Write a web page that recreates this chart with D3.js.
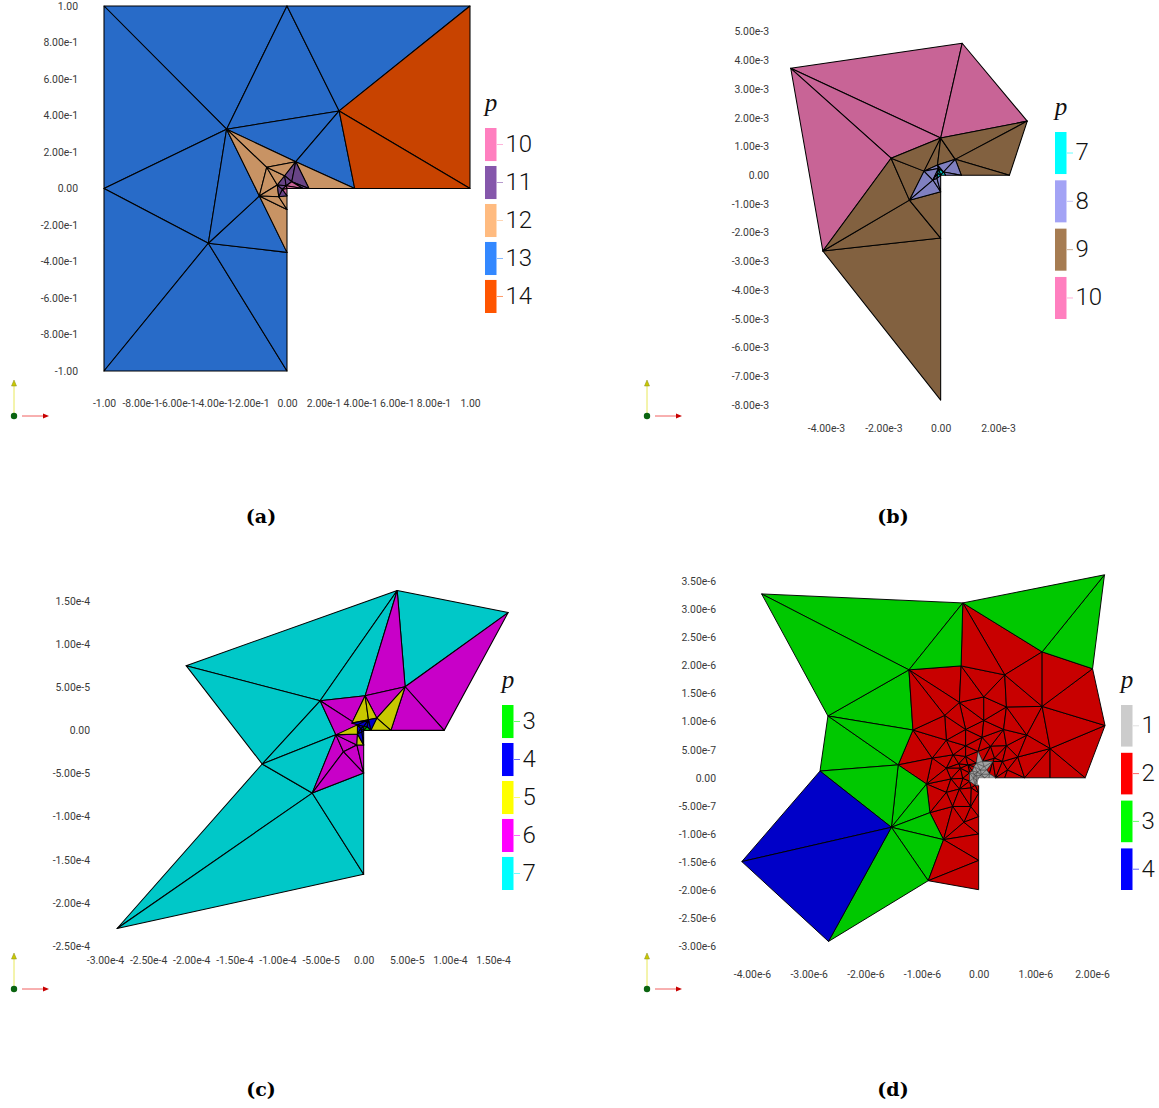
<!DOCTYPE html>
<html>
<head>
<meta charset="utf-8">
<script src="https://cdn.jsdelivr.net/npm/d3@7"></script>
<style>
    body { margin: 0; background: #fff; }
    svg { display: block; }
    .tick text { font-family: Roboto, sans-serif; font-size: 10.4px; fill: #3a3a3a; }
</style>
</head>
<body>
<div id="chart"></div>
<script>
const pValues = [1, 2, 3, 4, 5, 6, 7, 8, 9, 10, 11, 12, 13, 14];
const pColors = ["#cccccc", "#ff0000", "#00ff00", "#0000ff", "#ffff00", "#ff00ff", "#00ffff",
    "#a3a3f5", "#a67c52", "#ff7fbf", "#8557ab", "#ffbb80", "#3388ff", "#ff5500"];

// panel (a), unit 1
const xTicksA = [-1, -0.8, -0.6, -0.4, -0.2, 0, 0.2, 0.4, 0.6, 0.8, 1];
const xLabelsA = ["-1.00", "-8.00e-1", "-6.00e-1", "-4.00e-1", "-2.00e-1", "0.00", "2.00e-1", "4.00e-1", "6.00e-1", "8.00e-1", "1.00"];
const yTicksA = xTicksA;
const yLabelsA = xLabelsA;
const legendA = [10, 11, 12, 13, 14];
const nodesA = [[-1, 1], [0, 1], [1, 1], [1, 0], [0.37, 0], [-1, 0], [-1, -1], [0, -1], [0, -0.35],
    [-0.33, 0.325], [0.285, 0.425], [-0.43, -0.30], [0.048, 0.147], [-0.111, 0.116], [-0.151, -0.041],
    [-0.053, 0.019], [0, -0.115], [-0.045, -0.045], [0.12, 0], [-0.0126, 0.07], [0.026, 0.037],
    [-0.005, 0.015], [0.087, 0], [-0.025, -0.005], [0, -0.04], [0, 0]];
const trisA = [[0, 1, 9, 13], [1, 9, 10, 13], [1, 2, 10, 13], [0, 5, 9, 13], [5, 9, 11, 13], [5, 6, 11, 13],
    [6, 7, 11, 13], [7, 8, 11, 13], [8, 11, 14, 13], [9, 11, 14, 13], [9, 10, 12, 13], [10, 12, 4, 13],
    [2, 3, 10, 14], [3, 4, 10, 14],
    [9, 12, 13, 12], [9, 13, 14, 12], [12, 18, 4, 12], [14, 16, 8, 12], [14, 13, 15, 12], [14, 15, 17, 12],
    [14, 17, 16, 12], [13, 15, 19, 12], [13, 19, 12, 12], [17, 16, 24, 12],
    [12, 19, 20, 11], [12, 20, 18, 11], [19, 15, 21, 11], [19, 21, 20, 11], [20, 22, 18, 11],
    [15, 17, 23, 11], [15, 23, 21, 11], [23, 17, 24, 11],
    [20, 21, 22, 10], [21, 25, 22, 10], [23, 21, 25, 10], [23, 25, 24, 10]];

// panel (b), unit 1e-3
const xTicksB = [-4, -2, 0, 2];
const xLabelsB = ["-4.00e-3", "-2.00e-3", "0.00", "2.00e-3"];
const yTicksB = [5, 4, 3, 2, 1, 0, -1, -2, -3, -4, -5, -6, -7, -8];
const yLabelsB = ["5.00e-3", "4.00e-3", "3.00e-3", "2.00e-3", "1.00e-3", "0.00", "-1.00e-3", "-2.00e-3", "-3.00e-3", "-4.00e-3", "-5.00e-3", "-6.00e-3", "-7.00e-3", "-8.00e-3"];
const legendB = [7, 8, 9, 10];
const nodesB = [[-5.23, 3.72], [0.75, 4.59], [3.02, 1.88], [2.40, 0], [-1.73, 0.59], [0, 1.29], [-4.11, -2.64],
    [0, -2.19], [0, -7.83], [-1.09, -0.87], [-0.58, 0.14], [0.51, 0.55], [-0.11, 0.35], [-0.27, -0.17],
    [0.72, 0], [0, -0.58], [0.16, 0.17], [-0.08, 0.23], [0.10, 0.11], [-0.10, 0.06], [-0.13, -0.11], [0, 0], [0.17, 0]];
const trisB = [[0, 1, 5, 10], [0, 4, 5, 10], [1, 2, 5, 10], [0, 6, 4, 10],
    [6, 7, 8, 9], [6, 9, 7, 9], [6, 4, 9, 9], [4, 10, 9, 9], [4, 5, 10, 9], [5, 10, 12, 9], [5, 12, 11, 9],
    [5, 11, 2, 9], [11, 2, 3, 9], [11, 14, 3, 9], [9, 15, 7, 9],
    [9, 10, 13, 8], [9, 13, 15, 8], [10, 12, 17, 8], [10, 17, 13, 8], [12, 11, 18, 8], [11, 14, 18, 8],
    [12, 18, 17, 8], [13, 20, 15, 8], [17, 19, 13, 8], [19, 20, 13, 8], [20, 21, 15, 8], [18, 22, 14, 8],
    [17, 18, 21, 7], [17, 21, 19, 7], [19, 21, 20, 7], [18, 21, 22, 7]];

// panel (c), unit 1e-4
const xTicksC = [-3, -2.5, -2, -1.5, -1, -0.5, 0, 0.5, 1, 1.5];
const xLabelsC = ["-3.00e-4", "-2.50e-4", "-2.00e-4", "-1.50e-4", "-1.00e-4", "-5.00e-5", "0.00", "5.00e-5", "1.00e-4", "1.50e-4"];
const yTicksC = [1.5, 1, 0.5, 0, -0.5, -1, -1.5, -2, -2.5];
const yLabelsC = ["1.50e-4", "1.00e-4", "5.00e-5", "0.00", "-5.00e-5", "-1.00e-4", "-1.50e-4", "-2.00e-4", "-2.50e-4"];
const legendC = [3, 4, 5, 6, 7];
const nodesC = [[0.389, 1.622], [1.676, 1.366], [-2.059, 0.75], [-0.505, 0.343], [0.481, 0.506], [0.934, 0],
    [-1.177, -0.39], [-0.597, -0.727], [0, -0.494], [0, -1.669], [-2.86, -2.297], [0.017, 0.401], [-0.322, -0.052],
    [-0.234, -0.247], [-0.079, -0.169], [0, -0.169], [-0.137, 0.084], [0.153, 0.142], [0.316, 0], [0, 0], [0.083, 0],
    [-0.072, 0.064], [-0.072, -0.041], [0.056, 0.122], [0.04, 0.04], [-0.035, 0.02], [-0.02, -0.02], [0, 0.045]];
const trisC = [[2, 0, 3, 7], [2, 3, 6, 7], [3, 0, 11, 7], [0, 1, 4, 7], [6, 10, 7, 7], [10, 9, 7, 7], [7, 9, 8, 7],
    [3, 12, 6, 7], [6, 12, 7, 7],
    [0, 11, 4, 6], [1, 4, 5, 6], [3, 11, 16, 6], [3, 16, 21, 6], [3, 21, 12, 6], [12, 7, 13, 6], [7, 13, 8, 6],
    [12, 13, 14, 6], [13, 14, 8, 6], [14, 15, 8, 6], [11, 4, 17, 6], [4, 18, 5, 6], [12, 22, 14, 6],
    [11, 16, 23, 5], [11, 23, 17, 5], [4, 17, 18, 5], [12, 21, 22, 5], [14, 22, 15, 5], [17, 18, 20, 5],
    [16, 21, 23, 4], [23, 17, 20, 4], [21, 27, 23, 4], [27, 24, 23, 4], [23, 24, 20, 4], [21, 25, 27, 4],
    [25, 19, 27, 4], [25, 26, 19, 4], [21, 22, 25, 4], [22, 26, 25, 4], [22, 15, 26, 4], [26, 15, 19, 4],
    [27, 19, 24, 3], [24, 19, 20, 3]];

// panel (d), unit 1e-6
const xTicksD = [-4, -3, -2, -1, 0, 1, 2];
const xLabelsD = ["-4.00e-6", "-3.00e-6", "-2.00e-6", "-1.00e-6", "0.00", "1.00e-6", "2.00e-6"];
const yTicksD = [3.5, 3, 2.5, 2, 1.5, 1, 0.5, 0, -0.5, -1, -1.5, -2, -2.5, -3];
const yLabelsD = ["3.50e-6", "3.00e-6", "2.50e-6", "2.00e-6", "1.50e-6", "1.00e-6", "5.00e-7", "0.00", "-5.00e-7", "-1.00e-6", "-1.50e-6", "-2.00e-6", "-2.50e-6", "-3.00e-6"];
const legendD = [1, 2, 3, 4];
const nodesD = [[-3.83, 3.27], [-0.28, 3.11], [2.22, 3.61], [2.01, 1.94], [2.23, 0.93], [1.88, 0], [0, 0], [0, -1.99],
    [-0.89, -1.83], [-2.65, -2.91], [-4.18, -1.49], [-2.80, 0.12], [-2.66, 1.10], [-1.23, 1.92], [-0.31, 1.99],
    [1.12, 2.24], [-1.16, 0.85], [-1.42, 0.23], [-0.92, -0.11], [-0.86, -0.62], [-0.62, -1.10], [-1.54, -0.88],
    [0, -1.47], [0, -1.00], [0, -0.69], [0, -0.27], [1.26, 0], [0.81, 0], [0.46, 0], [1.12, 1.27], [1.26, 0.52],
    [0.46, 1.83], [0.09, 1.44], [-0.34, 1.34], [0.49, 1.26], [-0.60, 1.11], [0.09, 1.02], [-0.23, 0.86], [0.44, 0.86],
    [0.85, 0.76], [-0.57, 0.67], [0.06, 0.72], [-0.23, 0.57], [0.21, 0.56], [0.49, 0.57], [-0.45, 0.41], [-0.82, 0.35],
    [-0.23, 0.38], [0.28, 0.35], [0.69, 0.37], [-0.57, 0.17], [-0.35, 0.25], [-0.49, -0.02], [-0.28, -0.01],
    [-0.57, -0.26], [-0.34, -0.20], [-0.13, -0.18], [-0.46, -0.51], [-0.26, -0.79], [-0.14, -0.51],
    [-0.01, 0.47], [0.25, 0.29], [-0.16, 0.09], [-0.06, -0.13], [0.07, 0.29], [0.03, 0.14], [0.19, 0.07], [-0.11, 0.12],
    [-0.09, -0.01], [0, -0.14], [0.11, 0], [0.30, 0], [-0.02, 0.1], [-0.04, -0.04], [-0.05, 0.04], [0.04, 0.04],
    [-0.19, 0.23], [-0.32, 0.17], [0.42, 0.29], [0.51, 0.14], [-0.04, 0.26], [-0.16, -0.06], [0.1, 0.2], [0.14, 0.14],
    [0.05, 0.06], [0.18, 0], [-0.08, 0.06], [-0.03, -0.09], [-0.08, 0.2]];
const outlineD = [0, 1, 2, 3, 4, 5, 6, 7, 8, 9, 10, 11, 12];
const blueRegionD = [10, 11, 21, 9];
const greenRegionD = [0, 1, 14, 13, 16, 17, 18, 19, 20, 8, 9, 21, 11, 12];
const greenTopRegionD = [1, 2, 3, 15];
const greyRegionD = [[-0.01, 0.47], [0.07, 0.29], [0.25, 0.29], [0.14, 0.14], [0.46, 0], [0, 0], [0, -0.14], [-0.06, -0.13], [-0.16, -0.06], [-0.16, 0.09], [-0.04, 0.26]];

const color = d3.scaleOrdinal(pValues, pColors);

// the mesh is drawn with the lighting of the viewer, darker than the legend
function shaded(p) {
    const c = d3.rgb(color(p));
    return d3.rgb(c.r * 0.785, c.g * 0.785, c.b * 0.785).formatHex();
}

// triangles of panel (d) come from a Delaunay of its nodes, cut to the outline
function meshD() {
    const pick = ids => ids.map(i => nodesD[i]);
    const outline = pick(outlineD);
    const tri = d3.Delaunay.from(nodesD).triangles;
    const out = [];
    for (let i = 0; i < tri.length; i += 3) {
        const a = nodesD[tri[i]], b = nodesD[tri[i + 1]], c = nodesD[tri[i + 2]];
        const mid = [(a[0] + b[0] + c[0]) / 3, (a[1] + b[1] + c[1]) / 3];
        if (!d3.polygonContains(outline, mid)) continue;
        let p = 2;
        if (d3.polygonContains(pick(blueRegionD), mid)) p = 4;
        else if (d3.polygonContains(pick(greenRegionD), mid) || d3.polygonContains(pick(greenTopRegionD), mid)) p = 3;
        else if (d3.polygonContains(greyRegionD, mid)) p = 1;
        out.push([tri[i], tri[i + 1], tri[i + 2], p]);
    }
    // the grey star goes on top, its fine lines must not be covered by red ones
    return out.sort((a, b) => (a[3] === 1) - (b[3] === 1));
}

const svg = d3.select("#chart").append("svg")
    .attr("width", 1159)
    .attr("height", 1108);

function drawPanel(o) {
    const x = d3.scaleLinear().domain(o.xDomain).range(o.xRange);
    const y = d3.scaleLinear().domain(o.yDomain).range(o.yRange);
    const g = svg.append("g");

    g.selectAll("path.cell")
        .data(o.tris)
        .enter().append("path")
        .attr("class", "cell")
        .attr("d", d => "M" + d.slice(0, 3).map(i => x(o.nodes[i][0]) + "," + y(o.nodes[i][1])).join("L") + "Z")
        .attr("fill", d => shaded(d[3]))
        .attr("stroke", d => d[3] === 1 ? "#333" : "#000")
        .attr("stroke-width", d => d[3] === 1 ? 0.45 : o.line)
        .attr("stroke-linejoin", "round");

    const yAxis = d3.axisLeft(y)
        .tickValues(o.yTicks)
        .tickFormat((d, i) => o.yLabels[i])
        .tickSize(0)
        .tickPadding(0);
    const xAxis = d3.axisBottom(x)
        .tickValues(o.xTicks)
        .tickFormat((d, i) => o.xLabels[i])
        .tickSize(0)
        .tickPadding(0);
    g.append("g").attr("transform", "translate(" + o.yLabelEdge + ",0)").call(yAxis).call(s => s.select(".domain").remove());
    g.append("g").attr("transform", "translate(0," + o.xLabelTop + ")").call(xAxis).call(s => s.select(".domain").remove());

    // legend
    const band = d3.scaleBand().domain(o.legend).range(o.legendRange).paddingInner(0.13);
    const lx = o.legendLeft;
    g.append("text")
        .attr("x", lx + 6)
        .attr("y", o.legendRange[0] - 17)
        .attr("text-anchor", "middle")
        .style("font-family", "'Liberation Serif', serif")
        .style("font-style", "italic")
        .style("font-size", "25px")
        .attr("fill", "#111")
        .text("p");
    o.legend.forEach(p => {
        const cy = band(p) + band.bandwidth() / 2;
        g.append("rect")
            .attr("x", lx).attr("y", band(p))
            .attr("width", 11.5).attr("height", band.bandwidth())
            .attr("fill", color(p));
        g.append("line")
            .attr("x1", lx + 12).attr("x2", lx + 18)
            .attr("y1", cy).attr("y2", cy)
            .attr("stroke", color(p))
            .attr("stroke-opacity", 0.6);
        g.append("text")
            .attr("x", lx + 20.5).attr("y", cy - 1.2).attr("dy", "0.36em")
            .style("font-family", "Roboto, sans-serif")
            .style("font-weight", 300)
            .style("font-size", "24px")
            .attr("fill", "#111")
            .text(p);
    });

    // orientation triad
    const tx = o.triad[0], ty = o.triad[1];
    g.append("line").attr("x1", tx).attr("x2", tx).attr("y1", ty).attr("y2", ty - 30).attr("stroke", "#e8e85a");
    g.append("path").attr("d", `M${tx - 2.5},${ty - 30}L${tx},${ty - 36}L${tx + 2.5},${ty - 30}Z`).attr("fill", "#c9c900").attr("stroke", "#8a8a20").attr("stroke-width", 0.5);
    g.append("line").attr("x1", tx + 8).attr("x2", tx + 30).attr("y1", ty).attr("y2", ty).attr("stroke", "#f06060");
    g.append("path").attr("d", `M${tx + 29},${ty - 2.5}L${tx + 35},${ty}L${tx + 29},${ty + 2.5}Z`).attr("fill", "#c80000");
    g.append("circle").attr("cx", tx).attr("cy", ty).attr("r", 3.2).attr("fill", "#0a6410");

    g.append("text")
        .attr("x", o.caption[0]).attr("y", o.caption[1])
        .attr("text-anchor", "middle")
        .style("font-family", "'DejaVu Serif', serif")
        .style("font-weight", "bold")
        .style("font-size", "19px")
        .attr("fill", "#000")
        .text(o.captionText);
}

drawPanel({
    nodes: nodesA, tris: trisA, line: 1.05,
    xDomain: [-1, 1], xRange: [104, 470], yDomain: [-1, 1], yRange: [371, 6],
    xTicks: xTicksA, xLabels: xLabelsA, yTicks: yTicksA, yLabels: yLabelsA,
    yLabelEdge: 78, xLabelTop: 400,
    legend: legendA, legendRange: [128, 313], legendLeft: 485,
    triad: [14, 416], caption: [261, 523], captionText: "(a)"
});
drawPanel({
    nodes: nodesB, tris: trisB, line: 1.05,
    xDomain: [-4, 2], xRange: [826, 998], yDomain: [-8, 5], yRange: [405, 31.5],
    xTicks: xTicksB, xLabels: xLabelsB, yTicks: yTicksB, yLabels: yLabelsB,
    yLabelEdge: 769, xLabelTop: 425,
    legend: legendB, legendRange: [132, 319], legendLeft: 1055,
    triad: [647, 416], caption: [893, 523], captionText: "(b)"
});
drawPanel({
    nodes: nodesC, tris: trisC, line: 1.05,
    xDomain: [-3, 1.5], xRange: [105, 493], yDomain: [-2.5, 1.5], yRange: [946, 601],
    xTicks: xTicksC, xLabels: xLabelsC, yTicks: yTicksC, yLabels: yLabelsC,
    yLabelEdge: 90, xLabelTop: 957,
    legend: legendC, legendRange: [705, 890], legendLeft: 502,
    triad: [14, 989], caption: [261, 1096], captionText: "(c)"
});
drawPanel({
    nodes: nodesD, tris: meshD(), line: 0.95,
    xDomain: [-4, 2], xRange: [752, 1092], yDomain: [-3, 3.5], yRange: [946.5, 581],
    xTicks: xTicksD, xLabels: xLabelsD, yTicks: yTicksD, yLabels: yLabelsD,
    yLabelEdge: 716, xLabelTop: 971,
    legend: legendD, legendRange: [705, 890], legendLeft: 1121,
    triad: [647, 989], caption: [893, 1096], captionText: "(d)"
});
</script>
</body>
</html>
